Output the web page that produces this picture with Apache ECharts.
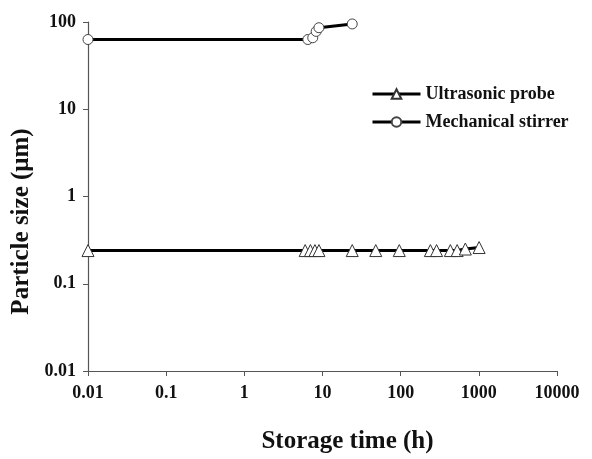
<!DOCTYPE html>
<html>
<head>
<meta charset="utf-8">
<script src="https://cdn.jsdelivr.net/npm/echarts@6/dist/echarts.min.js"></script>
<style>
  html, body { margin: 0; padding: 0; background: #fff; }
  #chart { width: 592px; height: 459px; }
</style>
</head>
<body>
<div id="chart"></div>
<script>
// storage time (h) and particle size (um)
var probeTime = [0.01, 6, 7, 8, 9, 24, 48, 96, 240, 288, 432, 528, 672, 1008];
var probeSize = [0.24, 0.24, 0.24, 0.24, 0.24, 0.24, 0.24, 0.24, 0.24, 0.24, 0.24, 0.24, 0.25, 0.26];
var stirrerTime = [0.01, 6.5, 7.5, 8.3, 9, 24];
var stirrerSize = [63, 63, 66, 78, 86, 95];

var font = 'Liberation Serif';

function pairs(xs, ys) {
  return xs.map(function (x, i) { return [x, ys[i]]; });
}

function logLabel(v) {
  var p = Math.round(Math.log10(v));
  if (p >= 0) return String(Math.pow(10, p));
  return '0.' + '0'.repeat(-p - 1) + '1';
}

var chart = echarts.init(document.getElementById('chart'));

var option = {
  backgroundColor: '#fff',
  animation: false,
  grid: { left: 88, right: 35, top: 22, bottom: 88, outerBoundsMode: 'none', containLabel: false },
  legend: {
    orient: 'vertical',
    left: 366,
    top: 80,
    itemWidth: 48,
    itemHeight: 12,
    itemGap: 10,
    lineStyle: { width: 3 },
    textStyle: { fontFamily: font, fontWeight: 'bold', fontSize: 18, color: '#111' },
    data: ['Ultrasonic probe', 'Mechanical stirrer']
  },
  xAxis: {
    type: 'log',
    logBase: 10,
    min: 0.01,
    max: 10000,
    name: 'Storage time (h)',
    nameLocation: 'middle',
    nameGap: 58,
    nameTextStyle: { fontFamily: font, fontWeight: 'bold', fontSize: 25, color: '#111', padding: [0, 0, 0, 50] },
    axisLine: { lineStyle: { color: '#555', width: 1.2 } },
    axisTick: { length: 5, lineStyle: { color: '#555' } },
    minorTick: { show: false },
    splitLine: { show: false },
    axisLabel: {
      margin: 13,
      fontFamily: font, fontWeight: 'bold', fontSize: 18, color: '#111',
      formatter: logLabel
    }
  },
  yAxis: {
    type: 'log',
    logBase: 10,
    min: 0.01,
    max: 100,
    name: 'Particle size (μm)',
    nameLocation: 'middle',
    nameGap: 52,
    nameTextStyle: { fontFamily: font, fontWeight: 'bold', fontSize: 25, color: '#111', padding: [0, 50, 0, 0] },
    axisLine: { lineStyle: { color: '#555', width: 1.2 } },
    axisTick: { length: 5, lineStyle: { color: '#555' } },
    minorTick: { show: false },
    splitLine: { show: false },
    axisLabel: {
      margin: 12,
      fontFamily: font, fontWeight: 'bold', fontSize: 18, color: '#111',
      formatter: logLabel
    }
  },
  series: [
    {
      name: 'Ultrasonic probe',
      type: 'line',
      data: pairs(probeTime, probeSize),
      symbol: 'triangle',
      symbolSize: 12,
      showAllSymbol: true,
      lineStyle: { color: '#000', width: 3 },
      itemStyle: { color: '#fff', borderColor: '#333', borderWidth: 1 }
    },
    {
      name: 'Mechanical stirrer',
      type: 'line',
      data: pairs(stirrerTime, stirrerSize),
      symbol: 'circle',
      symbolSize: 10,
      showAllSymbol: true,
      lineStyle: { color: '#000', width: 3 },
      itemStyle: { color: '#fff', borderColor: '#444', borderWidth: 1 }
    }
  ]
};

option && chart.setOption(option);
</script>
</body>
</html>
